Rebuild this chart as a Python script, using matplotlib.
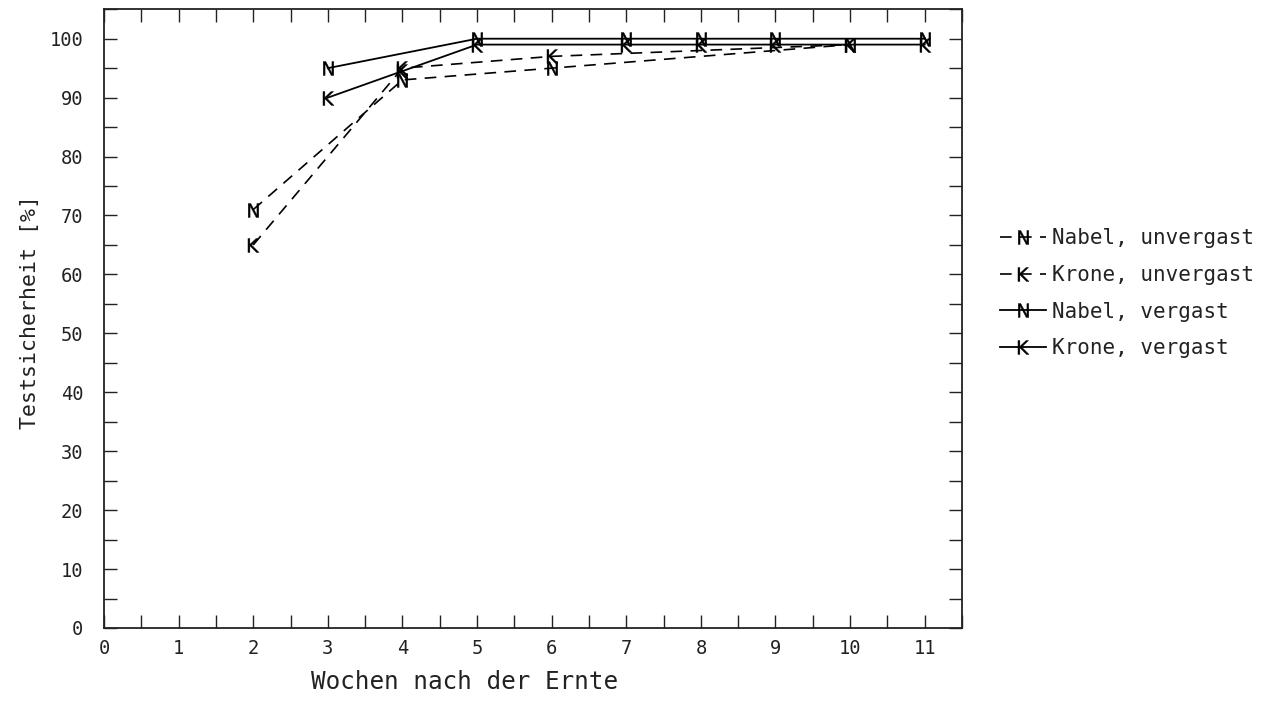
import matplotlib.pyplot as plt
from matplotlib.ticker import MultipleLocator

plt.rcParams['font.family'] = ['DejaVu Sans Mono', 'DejaVu Sans']

# Testsicherheit [%] je Woche nach der Ernte
wochen_nabel_unv = [2, 4, 6, 10]
nabel_unv = [71, 93, 95, 99]
wochen_krone_unv = [2, 4, 6, 10]
krone_unv = [65, 95, 97, 99]
wochen_nabel_verg = [3, 5, 7, 8, 9, 11]
nabel_verg = [95, 100, 100, 100, 100, 100]
wochen_krone_verg = [3, 4, 5, 7, 8, 9, 11]
krone_verg = [90, 94.5, 99, 99, 99, 99, 99]

labels = ["Nabel, unvergast", "Krone, unvergast", "Nabel, vergast", "Krone, vergast"]
xtick_labels = [str(i) for i in range(12)]

txt = '#222222'
dash = (0, (7, 5))
mN = r'$\mathrm{N}$'
mK = r'$\mathrm{K}$'

fig = plt.figure(figsize=(12.68, 7.10), dpi=100)
ax = fig.add_axes([0.082, 0.1155, 0.6767, 0.8715])

l1, = ax.plot(wochen_nabel_unv, nabel_unv, color='black', lw=1.2, ls=dash,
              marker=mN, ms=10, mec='black', mfc='black', mew=0.3)
l2, = ax.plot(wochen_krone_unv, krone_unv, color='black', lw=1.2, ls=dash,
              marker=mK, ms=10, mec='black', mfc='black', mew=0.3)
l3, = ax.plot(wochen_nabel_verg, nabel_verg, color='black', lw=1.3, ls='-',
              marker=mN, ms=10, mec='black', mfc='black', mew=0.3)
l4, = ax.plot(wochen_krone_verg, krone_verg, color='black', lw=1.3, ls='-',
              marker=mK, ms=10, mec='black', mfc='black', mew=0.3)

ax.set_xlim(0, 11.5)
ax.set_ylim(0, 105)
ax.set_xticks(range(12))
ax.set_xticklabels(xtick_labels)
ax.xaxis.set_minor_locator(MultipleLocator(0.5))
ax.set_yticks(range(0, 101, 10))
ax.yaxis.set_minor_locator(MultipleLocator(5))

ax.tick_params(which='both', direction='in', length=9.5, width=1.0,
               top=True, right=True, color='#222222')
ax.tick_params(which='major', labelsize=13.5, labelcolor=txt)
ax.tick_params(axis='x', which='major', pad=8)
ax.tick_params(axis='y', which='major', pad=15)
for s in ax.spines.values():
    s.set_linewidth(1.3)
    s.set_color('#222222')

ax.set_xlabel("Wochen nach der Ernte", fontsize=17.5, color=txt)
ax.xaxis.set_label_coords(0.42, -0.068)
ax.set_ylabel("Testsicherheit [%]", fontsize=15.5, color=txt)
ax.yaxis.set_label_coords(-0.075, 0.51)

fig.legend([l1, l2, l3, l4], labels, loc='upper left',
           bbox_to_anchor=(0.774, 0.705), frameon=False, fontsize=15,
           handlelength=2.2, handletextpad=0.3, labelspacing=0.8,
           labelcolor=txt)

fig.savefig("out.png", dpi=100)
